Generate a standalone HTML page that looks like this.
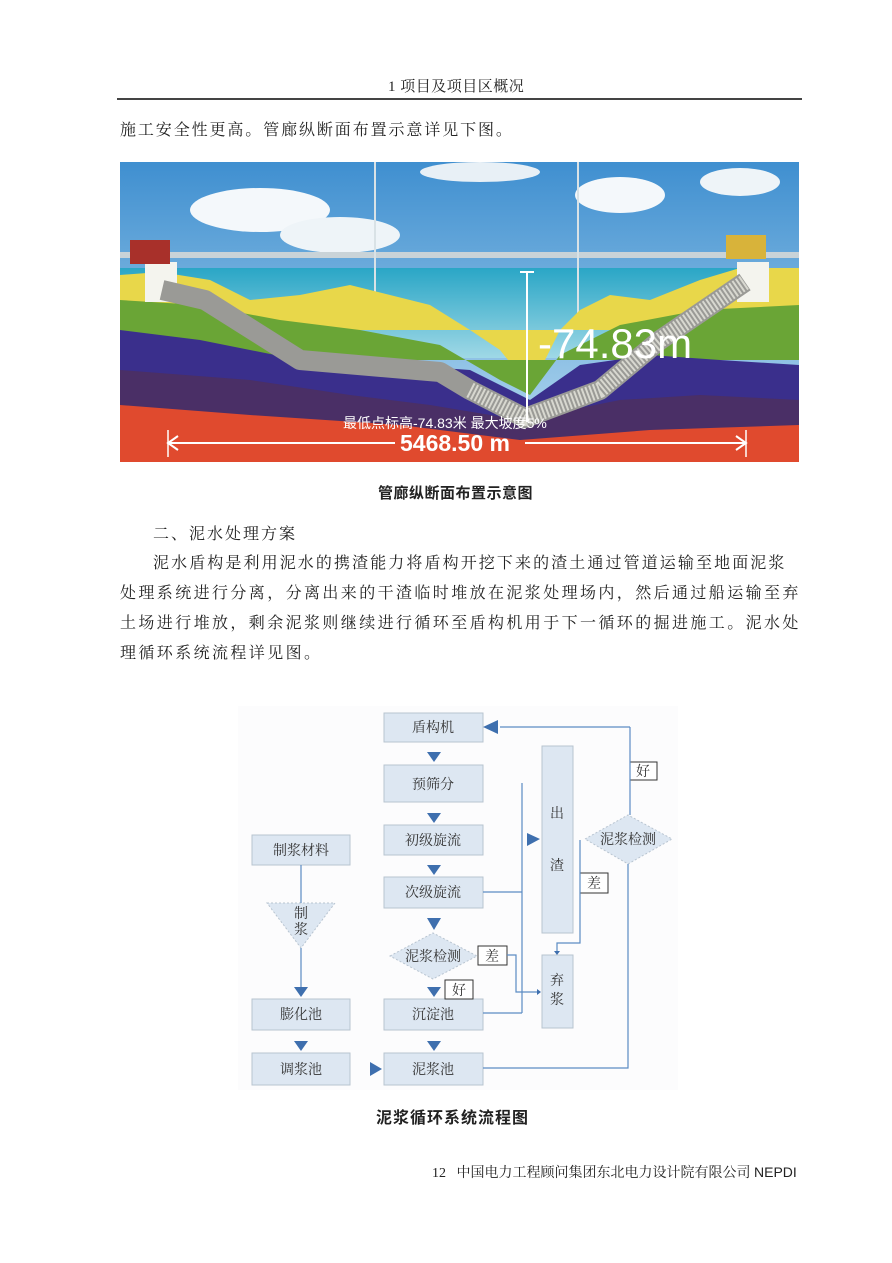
<!DOCTYPE html>
<html><head><meta charset="utf-8"><style>
html,body{margin:0;padding:0;background:#fff;}
body{width:892px;height:1263px;position:relative;overflow:hidden;font-family:"Liberation Serif","Noto Serif CJK SC",serif;color:#222;}
.t{position:absolute;white-space:nowrap;font-size:16px;letter-spacing:2.4px;line-height:20px;}
.b{font-family:"Liberation Sans","Noto Sans CJK SC",sans-serif;font-weight:bold;font-size:15px;letter-spacing:0.5px;}
</style></head><body>
<div class="t" style="left:388px;top:77px;font-size:15px;letter-spacing:0.5px;">1 项目及项目区概况</div>
<div style="position:absolute;left:117px;top:98px;width:685px;height:2px;background:#444;"></div>
<div class="t" style="left:120px;top:121px;letter-spacing:1.9px;">施工安全性更高。管廊纵断面布置示意详见下图。</div>

<svg style="position:absolute;left:0;top:0" width="892" height="1263">
<defs>
<linearGradient id="sky" x1="0" y1="0" x2="0" y2="1"><stop offset="0" stop-color="#3f8fd0"/><stop offset="1" stop-color="#b9dcf0"/></linearGradient>
<linearGradient id="wat" x1="0" y1="0" x2="0" y2="1"><stop offset="0" stop-color="#2aa6c6"/><stop offset="1" stop-color="#9fd8e6"/></linearGradient>
</defs>
<rect x="120" y="162" width="679" height="300" fill="url(#sky)"/>
<ellipse cx="260" cy="210" rx="70" ry="22" fill="#f4f8fb"/>
<ellipse cx="340" cy="235" rx="60" ry="18" fill="#eef4f8"/>
<ellipse cx="620" cy="195" rx="45" ry="18" fill="#f4f8fb"/>
<ellipse cx="480" cy="172" rx="60" ry="10" fill="#e8f0f6"/>
<ellipse cx="740" cy="182" rx="40" ry="14" fill="#eef4f8"/>
<rect x="120" y="268" width="679" height="90" fill="url(#wat)"/>
<rect x="120" y="252" width="679" height="6" fill="#c9d3d8"/>
<g stroke="#d9e2e6" stroke-width="2"><line x1="375" y1="162" x2="375" y2="330"/><line x1="578" y1="162" x2="578" y2="330"/></g>
<polygon points="120,275 160,272 210,280 250,300 300,295 350,285 390,295 430,305 470,330 500,350 520,375 540,370 560,330 580,310 610,295 650,300 700,280 740,268 799,268 799,330 120,330" fill="#e8d74a"/>
<polygon points="120,300 200,305 280,320 360,330 440,345 500,380 530,395 560,355 620,325 700,310 799,305 799,360 120,360" fill="#6aa536"/>
<polygon points="120,330 200,340 300,360 400,365 470,370 530,400 580,365 650,355 720,360 799,365 799,420 120,420" fill="#3a2f8c"/>
<polygon points="120,370 250,380 350,395 430,405 520,420 620,400 700,395 799,400 799,462 120,462" fill="#4a2f66"/>
<polygon points="120,405 250,415 400,425 520,440 650,430 799,425 799,462 120,462" fill="#e04a2e"/>
<rect x="145" y="262" width="32" height="40" fill="#f4f4ee"/>
<rect x="737" y="262" width="32" height="40" fill="#f4f4ee"/>
<rect x="130" y="240" width="40" height="24" fill="#a8302a"/>
<rect x="726" y="235" width="40" height="24" fill="#d8b33a"/>
<path d="M162,290 L205,300 L300,360 L440,372 L470,390 L525,418 L600,390 L660,340 L745,282" fill="none" stroke="#9a9a96" stroke-width="20" stroke-linejoin="round"/>
<path d="M470,390 L525,418 L600,390 L660,340 L745,282" fill="none" stroke="#d8d8d0" stroke-width="16" stroke-dasharray="2 2" stroke-linejoin="round"/>
<line x1="527" y1="272" x2="527" y2="422" stroke="#fff" stroke-width="2"/>
<line x1="520" y1="272" x2="534" y2="272" stroke="#fff" stroke-width="2"/>
<text x="538" y="358" fill="#fff" font-family="Liberation Sans" font-size="42">-74.83m</text>
<text x="343" y="428" fill="#fff" font-family="Liberation Sans,Noto Sans CJK SC,sans-serif" font-size="14">最低点标高-74.83米  最大坡度5%</text>
<line x1="168" y1="443" x2="395" y2="443" stroke="#fff" stroke-width="2"/>
<line x1="525" y1="443" x2="746" y2="443" stroke="#fff" stroke-width="2"/>
<polyline points="178,436 168,443 178,450" fill="none" stroke="#fff" stroke-width="2"/>
<polyline points="736,436 746,443 736,450" fill="none" stroke="#fff" stroke-width="2"/>
<text x="400" y="451" fill="#fff" font-family="Liberation Sans" font-weight="bold" font-size="23">5468.50 m</text>
<line x1="168" y1="430" x2="168" y2="457" stroke="#fff" stroke-width="1.5"/>
<line x1="746" y1="430" x2="746" y2="457" stroke="#fff" stroke-width="1.5"/>

<!-- flowchart -->
<rect x="238" y="706" width="440" height="384" fill="#fcfcfd"/>
<g fill="#dde7f2" stroke="#b8c4d0" stroke-width="1">
<rect x="384" y="713" width="99" height="29"/>
<rect x="384" y="765" width="99" height="37"/>
<rect x="384" y="825" width="99" height="30"/>
<rect x="384" y="877" width="99" height="31"/>
<rect x="384" y="999" width="99" height="31"/>
<rect x="384" y="1053" width="99" height="32"/>
<rect x="252" y="835" width="98" height="30"/>
<rect x="252" y="999" width="98" height="31"/>
<rect x="252" y="1053" width="98" height="32"/>
<rect x="542" y="746" width="31" height="187"/>
<rect x="542" y="955" width="31" height="73"/>
<polygon points="390,956 433,933 477,956 433,979" stroke-dasharray="2 2"/>
<polygon points="585,839 628,815 672,839 628,864" stroke-dasharray="2 2"/>
<polygon points="267,903 335,903 301,948" stroke-dasharray="2 2"/>
</g>
<g fill="#fff" stroke="#333" stroke-width="1">
<rect x="630" y="762" width="27" height="18"/>
<rect x="580" y="873" width="28" height="20"/>
<rect x="478" y="946" width="29" height="19"/>
<rect x="445" y="980" width="28" height="19"/>
</g>
<g stroke="#5b8cc4" stroke-width="1.2" fill="none">
<polyline points="630,727 500,727"/>
<polyline points="630,727 630,815"/>
<polyline points="628,864 628,1068 483,1068"/>
<polyline points="522,783 522,1013"/>
<polyline points="483,892 522,892"/>
<polyline points="483,1013 522,1013"/>
<polyline points="507,955 516,955 516,992 537,992"/>
<polyline points="580,840 580,943 557,943 557,952"/>
<polyline points="301,865 301,903"/>
<polyline points="301,948 301,990"/>
</g>
<g fill="#3e6fae">
<polygon points="483,727 498,720 498,734"/>
<polygon points="427,752 441,752 434,762"/>
<polygon points="427,813 441,813 434,823"/>
<polygon points="427,865 441,865 434,875"/>
<polygon points="427,918 441,918 434,930"/>
<polygon points="427,987 441,987 434,997"/>
<polygon points="427,1041 441,1041 434,1051"/>
<polygon points="527,833 540,839 527,846"/>
<polygon points="294,987 308,987 301,997"/>
<polygon points="294,1041 308,1041 301,1051"/>
<polygon points="370,1062 382,1069 370,1076"/>
<polygon points="537,989 541,992 537,995"/>
<polygon points="554,951 560,951 557,955"/>
</g>
<g font-family="Liberation Serif,Noto Serif CJK SC,serif" font-size="14" fill="#333" text-anchor="middle">
<text x="433" y="732">盾构机</text>
<text x="433" y="789">预筛分</text>
<text x="433" y="845">初级旋流</text>
<text x="433" y="897">次级旋流</text>
<text x="433" y="961">泥浆检测</text>
<text x="433" y="1019">沉淀池</text>
<text x="433" y="1074">泥浆池</text>
<text x="301" y="855">制浆材料</text>
<text x="301" y="918">制</text>
<text x="301" y="934">浆</text>
<text x="301" y="1019">膨化池</text>
<text x="301" y="1074">调浆池</text>
<text x="557" y="818">出</text>
<text x="557" y="870">渣</text>
<text x="557" y="985">弃</text>
<text x="557" y="1004">浆</text>
<text x="628" y="844">泥浆检测</text>
<text x="643" y="776">好</text>
<text x="594" y="888">差</text>
<text x="492" y="961">差</text>
<text x="459" y="995">好</text>
</g>
</svg>

<div class="t b" style="left:378px;top:484px;">管廊纵断面布置示意图</div>
<div class="t" style="left:153px;top:525px;letter-spacing:2px;">二、泥水处理方案</div>
<div class="t" style="left:153px;top:554px;letter-spacing:2.1px;">泥水盾构是利用泥水的携渣能力将盾构开挖下来的渣土通过管道运输至地面泥浆</div>
<div class="t" style="left:120px;top:584px;">处理系统进行分离，分离出来的干渣临时堆放在泥浆处理场内，然后通过船运输至弃</div>
<div class="t" style="left:120px;top:614px;">土场进行堆放，剩余泥浆则继续进行循环至盾构机用于下一循环的掘进施工。泥水处</div>
<div class="t" style="left:120px;top:644px;">理循环系统流程详见图。</div>
<div class="t b" style="left:376px;top:1109px;font-size:16px;letter-spacing:1px;">泥浆循环系统流程图</div>
<div class="t" style="left:432px;top:1162px;font-size:14px;letter-spacing:0px;">12 &nbsp; 中国电力工程顾问集团东北电力设计院有限公司 <span style="font-family:'Liberation Sans',sans-serif">NEPDI</span></div>
</body></html>
